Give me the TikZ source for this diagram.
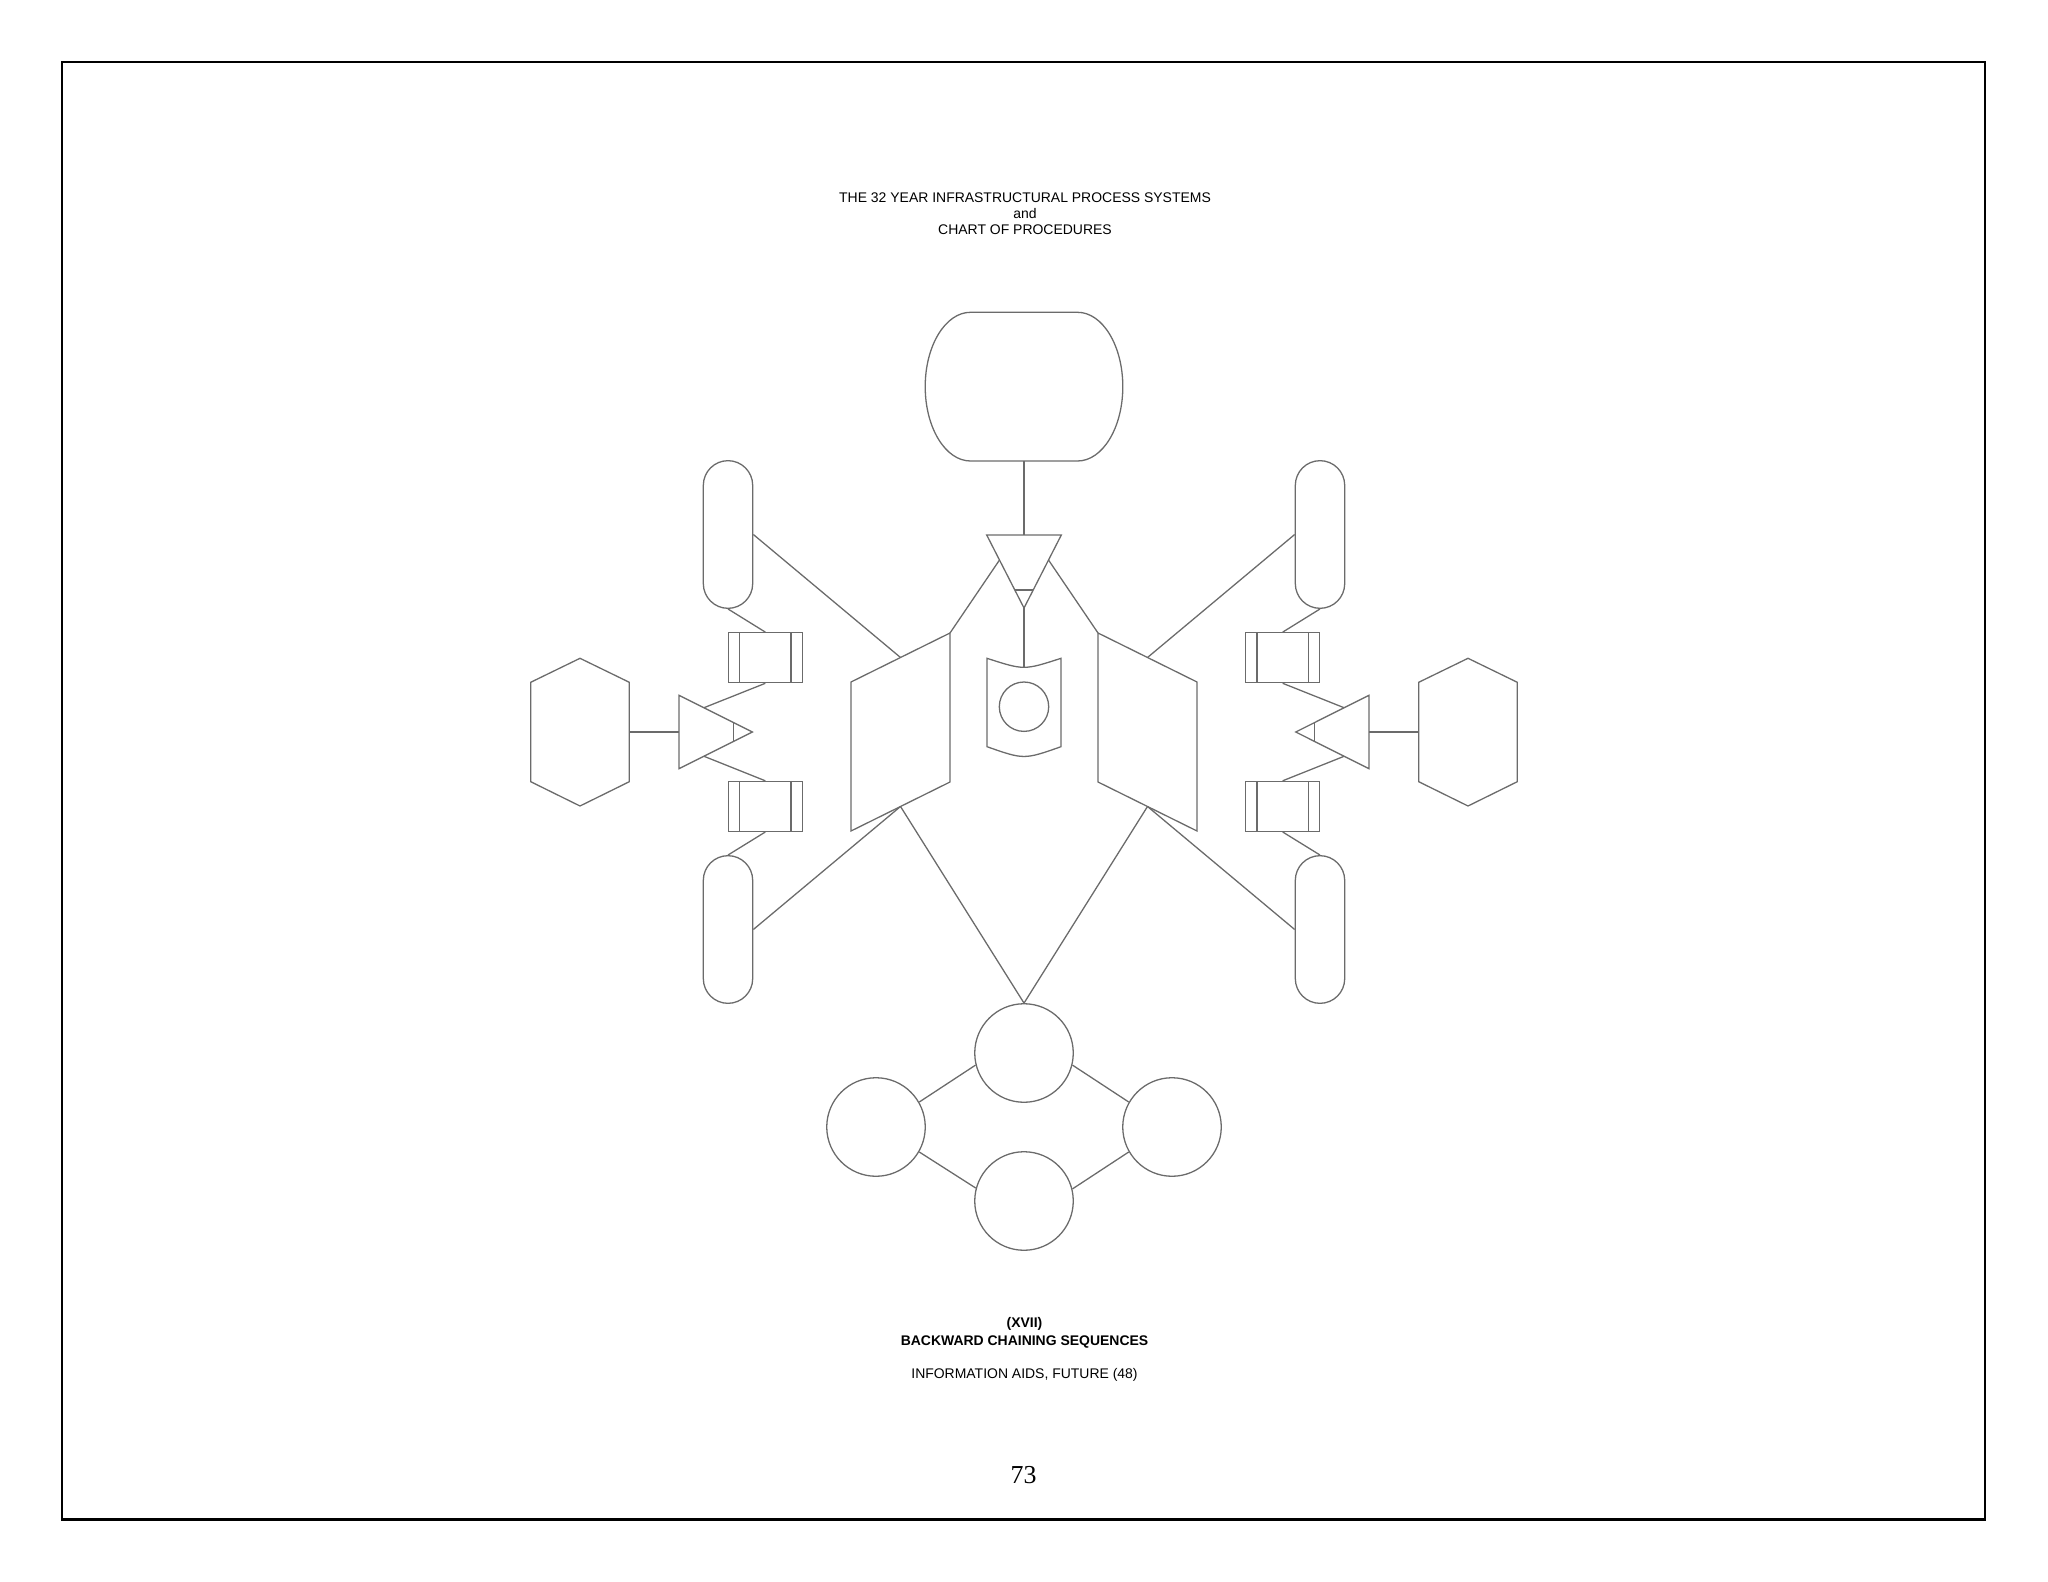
\documentclass[tikz,border=0pt]{standalone}
\usepackage{fontspec}
\setmainfont{Liberation Serif}
\newfontfamily\sansf{Liberation Sans}
\definecolor{ln}{gray}{0.42}
\newcommand{\boxlines}[1]{%
  \draw[conn] ([xshift=4.64pt]#1.north west) -- ([xshift=4.64pt]#1.south west);
  \draw[conn] ([xshift=-4.64pt]#1.north east) -- ([xshift=-4.64pt]#1.south east);}
\begin{document}
\begin{tikzpicture}[x=0.38672pt,y=-0.38672pt,
  shp/.style={draw=ln, line width=0.5pt},
  conn/.style={draw=ln, line width=0.5pt},
  pill/.style={shp, rectangle, rounded corners=9.55pt, minimum width=19.1pt, minimum height=57.1pt, inner sep=0pt},
  boxn/.style={shp, rectangle, minimum width=28.6pt, minimum height=19.3pt, inner sep=0pt},
  bigc/.style={shp, circle, minimum size=38.1pt, inner sep=0pt},
  smallc/.style={shp, circle, minimum size=19.1pt, inner sep=0pt},
  txt/.style={font=\sansf\fontsize{5.4}{6.3}\selectfont, inner sep=0pt, anchor=base}]
\useasboundingbox (0,0) rectangle (2048,1582);
% page frame
\draw[black, line width=0.8pt] (62,62) rectangle (1985,1519.5);

% titles
\node[txt] (t1) at (1025,202.3) {THE 32 YEAR INFRASTRUCTURAL PROCESS SYSTEMS};
\node[txt] (t2) at (1025,218.6) {and};
\node[txt] (t3) at (1025,235) {CHART OF PROCEDURES};
\node[txt, font=\sansf\bfseries\fontsize{5.4}{6.3}\selectfont] (t4) at (1024.5,1327.8) {(XVII)};
\node[txt, font=\sansf\bfseries\fontsize{5.4}{6.3}\selectfont] (t5) at (1024.5,1345) {BACKWARD CHAINING SEQUENCES};
\node[txt] (t6) at (1024.5,1378.3) {INFORMATION AIDS, FUTURE (48)};
\node[anchor=base, inner sep=0pt, font=\fontsize{10}{12}\selectfont] (t7) at (1023.5,1483.3) {73};

% top oval
\draw[shp] (970.5,312.3) -- (1077.5,312.3)
  .. controls (1102.52,312.3) and (1122.8,345.59) .. (1122.8,386.65)
  .. controls (1122.8,427.71) and (1102.52,461) .. (1077.5,461)
  -- (970.5,461)
  .. controls (945.48,461) and (925.2,427.71) .. (925.2,386.65)
  .. controls (925.2,345.59) and (945.48,312.3) .. cycle;
\coordinate (ovalb) at (1024,461);

% top triangle
\draw[shp] (986.7,535) -- (1061.3,535) -- (1024,608) -- cycle;
\draw[shp] (1014.8,590) -- (1033.2,590);
\coordinate (ttop) at (1024,535);
\coordinate (tapex) at (1024,608);
\coordinate (tl) at (999.5,560);
\coordinate (tr) at (1048.5,560);

% shield
\draw[shp] (987,658.3) .. controls (1024,670.3) .. (1061,658.3)
  -- (1061,746.7) .. controls (1024,759.7) .. (987,746.7) -- cycle;
\coordinate (shtop) at (1024,667.3);
\node[smallc] (shc) at (1024,706.7) {};

% trapezoids
\draw[shp] (851,682) -- (950,633) -- (950,782) -- (851,831) -- cycle;
\coordinate (ltrt) at (950,633);
\coordinate (ltrtm) at (900.5,657.5);
\coordinate (ltrbm) at (900.5,806.5);
\draw[shp] (1197,682) -- (1098,633) -- (1098,782) -- (1197,831) -- cycle;
\coordinate (rtrt) at (1098,633);
\coordinate (rtrtm) at (1147.5,657.5);
\coordinate (rtrbm) at (1147.5,806.5);

% pills
\node[pill] (ulp) at (728,534.5) {};
\node[pill] (llp) at (728,929.5) {};
\node[pill] (urp) at (1320,534.5) {};
\node[pill] (lrp) at (1320,929.5) {};

% boxes
\node[boxn] (ulb) at (765.3,657.7) {};
\node[boxn] (llb) at (765.3,806.4) {};
\node[boxn] (urb) at (1282.7,657.7) {};
\node[boxn] (lrb) at (1282.7,806.4) {};
\boxlines{ulb}\boxlines{llb}\boxlines{urb}\boxlines{lrb}

% side triangles
\draw[shp] (679,695.3) -- (752.3,732) -- (679,768.7) -- cycle;
\draw[shp] (733.3,722.6) -- (733.3,741.4);
\coordinate (ltu) at (704,707.7);
\coordinate (ltd) at (704,756.3);
\coordinate (ltm) at (679,732);
\draw[shp] (1369,695.3) -- (1295.7,732) -- (1369,768.7) -- cycle;
\draw[shp] (1314.7,722.6) -- (1314.7,741.4);
\coordinate (rtu) at (1344,707.7);
\coordinate (rtd) at (1344,756.3);
\coordinate (rtm) at (1369,732);

% hexagons
\draw[shp] (580,658.3) -- (629.3,682.3) -- (629.3,781.7) -- (580,806) -- (530.7,781.7) -- (530.7,682.3) -- cycle;
\coordinate (lhex) at (629.3,732);
\draw[shp] (1468,658.3) -- (1517.3,682.3) -- (1517.3,781.7) -- (1468,806) -- (1418.7,781.7) -- (1418.7,682.3) -- cycle;
\coordinate (rhex) at (1418.7,732);

% bottom circles
\node[bigc] (ct) at (1024,1053) {};
\node[bigc] (cl) at (876,1127) {};
\node[bigc] (cr) at (1172,1127) {};
\node[bigc] (cb) at (1024,1201) {};

% connectors
\draw[conn] (ovalb) -- (ttop);
\draw[conn] (tapex) -- (shtop);
\draw[conn] (tl) -- (ltrt);
\draw[conn] (tr) -- (rtrt);
\draw[conn] (ulp.east) -- (ltrtm);
\draw[conn] (llp.east) -- (ltrbm);
\draw[conn] (urp.west) -- (rtrtm);
\draw[conn] (lrp.west) -- (rtrbm);
\draw[conn] (ltrbm) -- (ct.north);
\draw[conn] (rtrbm) -- (ct.north);
\draw[conn] (ulp.south) -- (ulb.north);
\draw[conn] (ulb.south) -- (ltu);
\draw[conn] (ltd) -- (llb.north);
\draw[conn] (llb.south) -- (llp.north);
\draw[conn] (urp.south) -- (urb.north);
\draw[conn] (urb.south) -- (rtu);
\draw[conn] (rtd) -- (lrb.north);
\draw[conn] (lrb.south) -- (lrp.north);
\draw[conn] (lhex) -- (ltm);
\draw[conn] (rhex) -- (rtm);
\draw[conn] (ct.194.5) -- (cl.30);
\draw[conn] (ct.-14.5) -- (cr.150);
\draw[conn] (cb.165.5) -- (cl.-30);
\draw[conn] (cb.14.5) -- (cr.210);
\end{tikzpicture}
\end{document}
